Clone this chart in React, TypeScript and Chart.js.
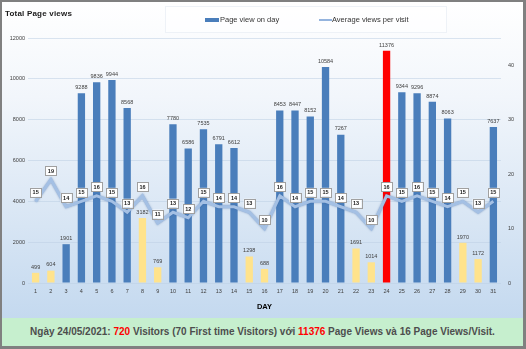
import React, { useEffect, useRef } from 'react';
import { Chart, registerables } from 'chart.js';

Chart.register(...registerables);

const days = ['1','2','3','4','5','6','7','8','9','10','11','12','13','14','15','16','17','18','19','20','21','22','23','24','25','26','27','28','29','30','31'];
const pageViews = [499, 604, 1901, 9288, 9836, 9944, 8568, 3182, 769, 7780, 6586, 7535, 6791, 6612, 1298, 688, 8453, 8447, 8152, 10584, 7267, 1691, 1014, 11376, 9344, 9296, 8874, 8063, 1970, 1172, 7637];
const avgViews = [15, 19, 14, 15, 16, 15, 13, 16, 11, 13, 12, 15, 14, 14, 13, 10, 16, 14, 15, 15, 14, 13, 10, 16, 15, 16, 15, 14, 15, 13, 15];
const weekendDays = ['1','2','8','9','15','16','22','23','29','30'];
const highlightDay = '24';
const leftMax = 12000;
const leftStep = 2000;
const rightMax = 45;
const rightStep = 10;

const BLUE = '#4A7EBB';
const YELLOW = '#FFE38C';
const RED = '#FF0000';

const barColors = days.map((d) => (d === highlightDay ? RED : weekendDays.includes(d) ? YELLOW : BLUE));

const FONT = "'Liberation Sans', Arial, sans-serif";

const labelPlugin = {
  id: 'valueLabels',
  beforeDatasetDraw(chart: any, args: any) {
    if (chart.data.datasets[args.index].type === 'line') {
      const ctx = chart.ctx;
      ctx.save();
      ctx.shadowColor = 'rgba(50,90,150,0.55)';
      ctx.shadowBlur = 2;
    }
  },
  afterDatasetDraw(chart: any, args: any) {
    if (chart.data.datasets[args.index].type === 'line') {
      chart.ctx.restore();
    }
  },
  afterDatasetsDraw(chart: any) {
    const ctx = chart.ctx;
    ctx.save();
    const barMeta = chart.getDatasetMeta(0);
    ctx.font = `5.5px ${FONT}`;
    ctx.fillStyle = '#404040';
    ctx.textAlign = 'center';
    ctx.textBaseline = 'bottom';
    barMeta.data.forEach((el: any, i: number) => {
      ctx.fillText(String(pageViews[i]), el.x, el.y - 3);
    });
    const lineMeta = chart.getDatasetMeta(1);
    ctx.font = `bold 5.5px ${FONT}`;
    ctx.textBaseline = 'middle';
    lineMeta.data.forEach((el: any, i: number) => {
      const txt = String(avgViews[i]);
      const w = 11;
      const h = 9;
      const cx = el.x;
      const cy = el.y - 9;
      ctx.fillStyle = '#FFFFFF';
      ctx.fillRect(cx - w / 2, cy - h / 2, w, h);
      ctx.strokeStyle = '#A0A0A0';
      ctx.lineWidth = 1;
      ctx.strokeRect(Math.round(cx - w / 2) + 0.5, Math.round(cy - h / 2) + 0.5, w, h);
      ctx.fillStyle = '#1A1A1A';
      ctx.fillText(txt, cx, cy + 0.5);
    });
    ctx.restore();
  },
};

export default function App() {
  const canvasRef = useRef<HTMLCanvasElement>(null);

  useEffect(() => {
    if (!canvasRef.current) return;
    const chart = new Chart(canvasRef.current, {
      type: 'bar',
      data: {
        labels: days,
        datasets: [
          {
            type: 'bar',
            label: 'Page view on day',
            data: pageViews,
            backgroundColor: barColors,
            borderColor: barColors,
            borderWidth: 0,
            barPercentage: 0.48,
            categoryPercentage: 1,
            yAxisID: 'y',
            order: 1,
          } as any,
          {
            type: 'line',
            label: 'Average views per visit',
            data: avgViews,
            borderColor: '#A4C0E4',
            backgroundColor: '#A4C0E4',
            borderWidth: 3,
            pointRadius: 0,
            tension: 0,
            yAxisID: 'y1',
            order: 0,
          } as any,
        ],
      },
      options: {
        responsive: false,
        animation: false,
        devicePixelRatio: 1,
        layout: { padding: { top: 36, left: 0, right: 0, bottom: 0 } },
        plugins: {
          legend: { display: false },
          title: { display: false },
          tooltip: { enabled: false },
        },
        scales: {
          x: {
            grid: { display: false, drawTicks: false },
            border: { display: false },
            ticks: {
              font: { family: FONT, size: 5.5 },
              color: '#404040',
              padding: 5,
              maxRotation: 0,
              autoSkip: false,
            },
            title: {
              display: true,
              text: 'DAY',
              font: { family: FONT, size: 7.5, weight: 'bold' },
              color: '#000000',
              padding: { top: 0, bottom: 7 },
            },
            afterFit(s: any) {
              s.height = 35;
            },
          },
          y: {
            position: 'left',
            min: 0,
            max: leftMax,
            ticks: {
              stepSize: leftStep,
              font: { family: FONT, size: 5.5 },
              color: '#404040',
              padding: 3,
              callback: (v: any) => String(v),
            },
            grid: { color: 'rgba(190,208,228,0.55)', drawTicks: false },
            border: { display: false },
            afterFit(s: any) {
              s.width = 26;
            },
          },
          y1: {
            position: 'right',
            min: 0,
            max: rightMax,
            ticks: {
              stepSize: rightStep,
              font: { family: FONT, size: 5.5 },
              color: '#404040',
              padding: 7,
              callback: (v: any) => String(v),
            },
            afterBuildTicks(s: any) {
              s.ticks = s.ticks.filter((t: any) => t.value % rightStep === 0);
            },
            grid: { display: false, drawTicks: false },
            border: { display: false },
            afterFit(s: any) {
              s.width = 22;
            },
          },
        },
      },
      plugins: [labelPlugin],
    });
    return () => chart.destroy();
  }, []);

  return (
    <div
      style={{
        position: 'absolute',
        left: 0,
        top: 0,
        width: 526,
        height: 349,
        boxSizing: 'border-box',
        borderStyle: 'solid',
        borderColor: '#808080',
        borderWidth: '2px 3px 3px 2px',
        fontFamily: FONT,
      }}
    >
      <div
        style={{
          position: 'relative',
          width: 521,
          height: 316,
          background: 'linear-gradient(to bottom, #FFFFFF 0%, #F2F6FB 30%, #C4D9EF 100%)',
        }}
      >
        <canvas ref={canvasRef} width={521} height={316} style={{ position: 'absolute', left: 0, top: 0 }} />
        <div
          style={{
            position: 'absolute',
            left: 3,
            top: 7,
            fontSize: 8,
            fontWeight: 'bold',
            color: '#1A1A1A',
            letterSpacing: 0.2,
          }}
        >
          Total Page views
        </div>
        <div
          style={{
            position: 'absolute',
            left: 163,
            top: 4,
            width: 282,
            height: 27,
            boxSizing: 'border-box',
            border: '1px solid #EEF2F7',
            background: 'rgba(255,255,255,0.5)',
            fontSize: 7.5,
            color: '#333333',
          }}
        >
          <div style={{ position: 'absolute', left: 39, top: 11, width: 14, height: 4, background: BLUE }} />
          <div style={{ position: 'absolute', left: 54, top: 8, lineHeight: '10px', whiteSpace: 'nowrap' }}>Page view on day</div>
          <div style={{ position: 'absolute', left: 153, top: 12, width: 13, height: 2, background: '#94B4DE' }} />
          <div style={{ position: 'absolute', left: 166, top: 8, lineHeight: '10px', whiteSpace: 'nowrap' }}>Average views per visit</div>
        </div>
      </div>
      <div
        style={{
          width: 521,
          height: 28,
          background: '#C6EFCE',
          textAlign: 'center',
          lineHeight: '28px',
          fontSize: 10,
          fontWeight: 'bold',
          color: '#4D4D4D',
          whiteSpace: 'nowrap',
        }}
      >
        Ngày 24/05/2021: <span style={{ color: '#FF0000' }}>720</span> Visitors (70 First time Visitors) với{' '}
        <span style={{ color: '#FF0000' }}>11376</span> Page Views và 16 Page Views/Visit.
      </div>
    </div>
  );
}
